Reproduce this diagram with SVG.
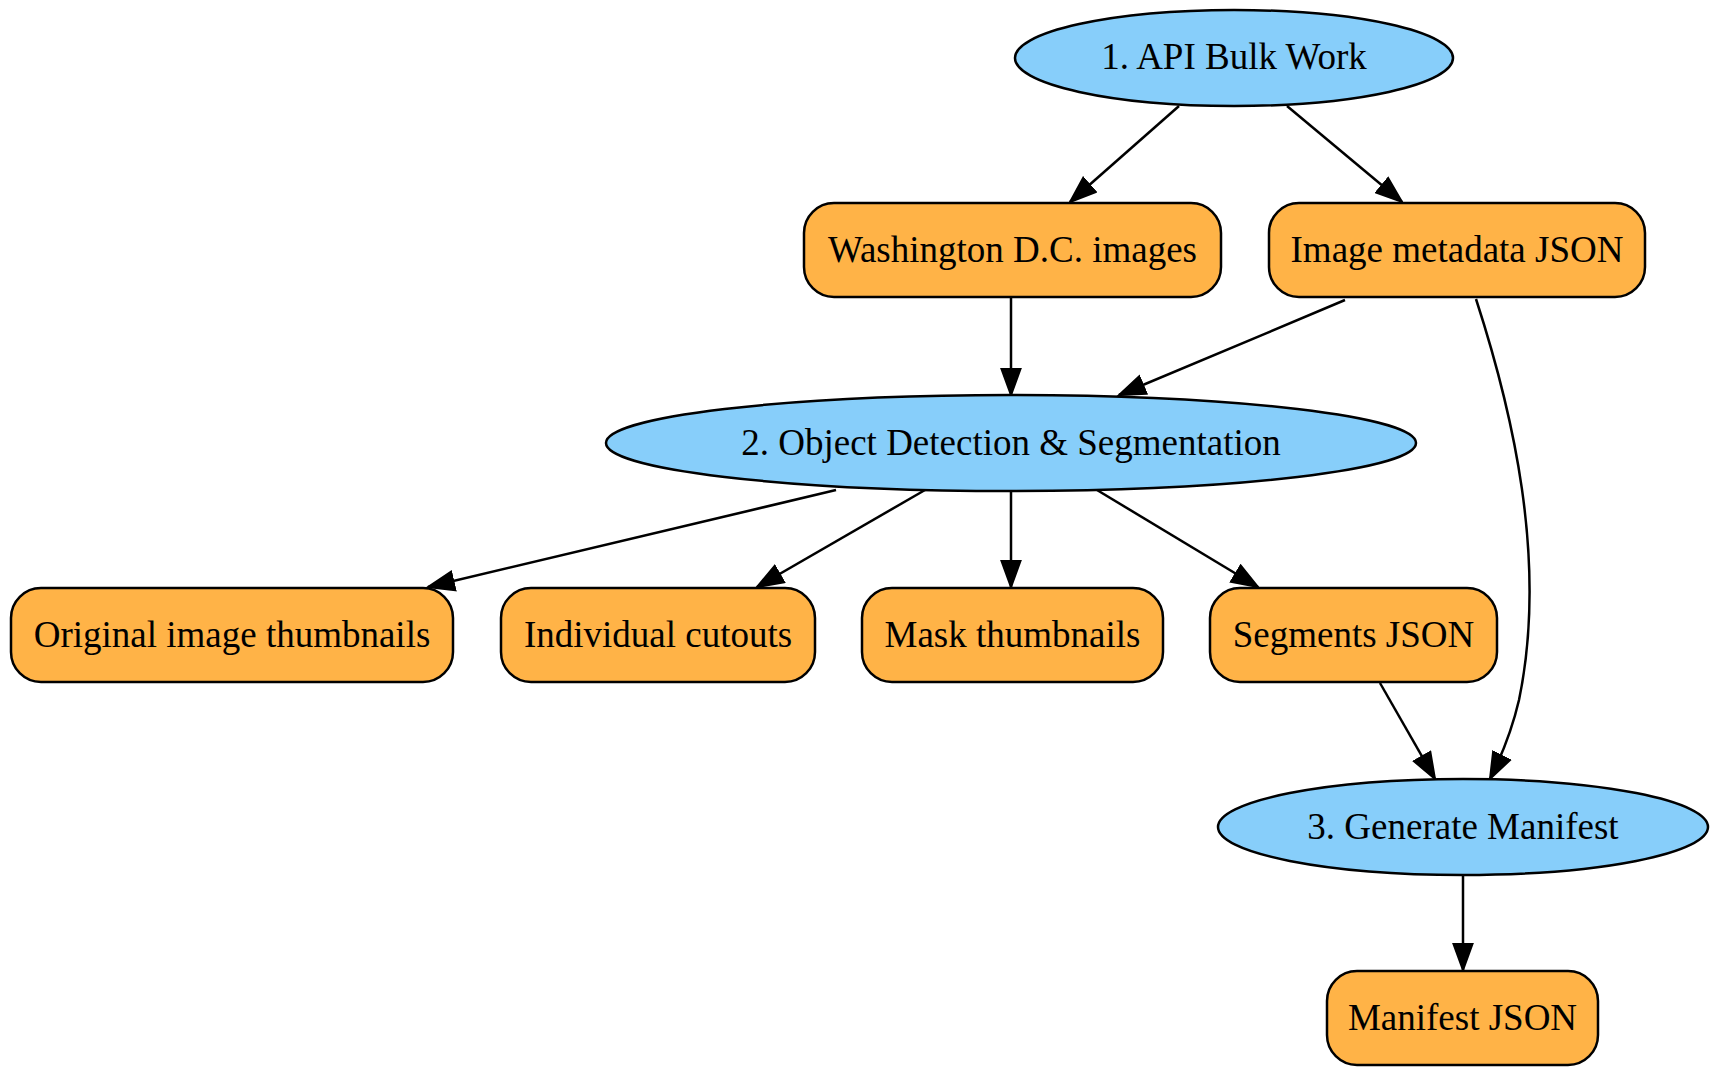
<svg xmlns="http://www.w3.org/2000/svg" width="1720" height="1078" viewBox="0 0 1720 1078">
<style>
.ell{fill:#87CEFA;stroke:#000;stroke-width:2.5}
.box{fill:#FFB347;stroke:#000;stroke-width:2.5}
text{font-family:"Liberation Serif","Times New Roman",serif;font-size:37px;fill:#000;text-anchor:middle}
.edge{fill:none;stroke:#000;stroke-width:2.5}
</style>
<defs>
<marker id="arr" markerUnits="userSpaceOnUse" markerWidth="30" markerHeight="22" refX="27" refY="11" orient="auto">
<path d="M1,1.5 L27,11 L1,20.5 z" fill="#000" stroke="#000" stroke-width="2"/>
</marker>
</defs>
<rect width="1720" height="1078" fill="#fff"/>
<g id="connectors">
<path class="edge" d="M1179,106 L1070,202" marker-end="url(#arr)"/>
<path class="edge" d="M1287,106 L1402,202" marker-end="url(#arr)"/>
<path class="edge" d="M1011,297 L1011,395" marker-end="url(#arr)"/>
<path class="edge" d="M1345,300 C1270,332 1190,365 1119,395" marker-end="url(#arr)"/>
<path class="edge" d="M1476,299 C1512,410 1548,560 1519,700 C1512,730 1502,755 1490,779" marker-end="url(#arr)"/>
<path class="edge" d="M836,490 L428,587" marker-end="url(#arr)"/>
<path class="edge" d="M925,490 L757,587" marker-end="url(#arr)"/>
<path class="edge" d="M1011,490 L1011,587" marker-end="url(#arr)"/>
<path class="edge" d="M1097,490 L1258,587" marker-end="url(#arr)"/>
<path class="edge" d="M1380,683 L1435,779" marker-end="url(#arr)"/>
<path class="edge" d="M1463,874 L1463,970" marker-end="url(#arr)"/>
</g>
<g id="n1"><ellipse class="ell" cx="1234" cy="58" rx="219" ry="48"/><text x="1234" y="69">1. API Bulk Work</text></g>
<g id="n2"><rect class="box" x="804" y="203" width="417" height="94" rx="30"/><text x="1012.5" y="262">Washington D.C. images</text></g>
<g id="n3"><rect class="box" x="1269" y="203" width="376" height="94" rx="30"/><text x="1457" y="262">Image metadata JSON</text></g>
<g id="n4"><ellipse class="ell" cx="1011" cy="443" rx="405" ry="48"/><text x="1011" y="455">2. Object Detection &amp; Segmentation</text></g>
<g id="n5"><rect class="box" x="11" y="588" width="442" height="94" rx="30"/><text x="232" y="647">Original image thumbnails</text></g>
<g id="n6"><rect class="box" x="501" y="588" width="314" height="94" rx="30"/><text x="658" y="647">Individual cutouts</text></g>
<g id="n7"><rect class="box" x="862" y="588" width="301" height="94" rx="30"/><text x="1012.5" y="647">Mask thumbnails</text></g>
<g id="n8"><rect class="box" x="1210" y="588" width="287" height="94" rx="30"/><text x="1353.5" y="647">Segments JSON</text></g>
<g id="n9"><ellipse class="ell" cx="1463" cy="827" rx="245" ry="48"/><text x="1463" y="839">3. Generate Manifest</text></g>
<g id="n10"><rect class="box" x="1327" y="971" width="271" height="94" rx="30"/><text x="1462.5" y="1030">Manifest JSON</text></g>
</svg>
